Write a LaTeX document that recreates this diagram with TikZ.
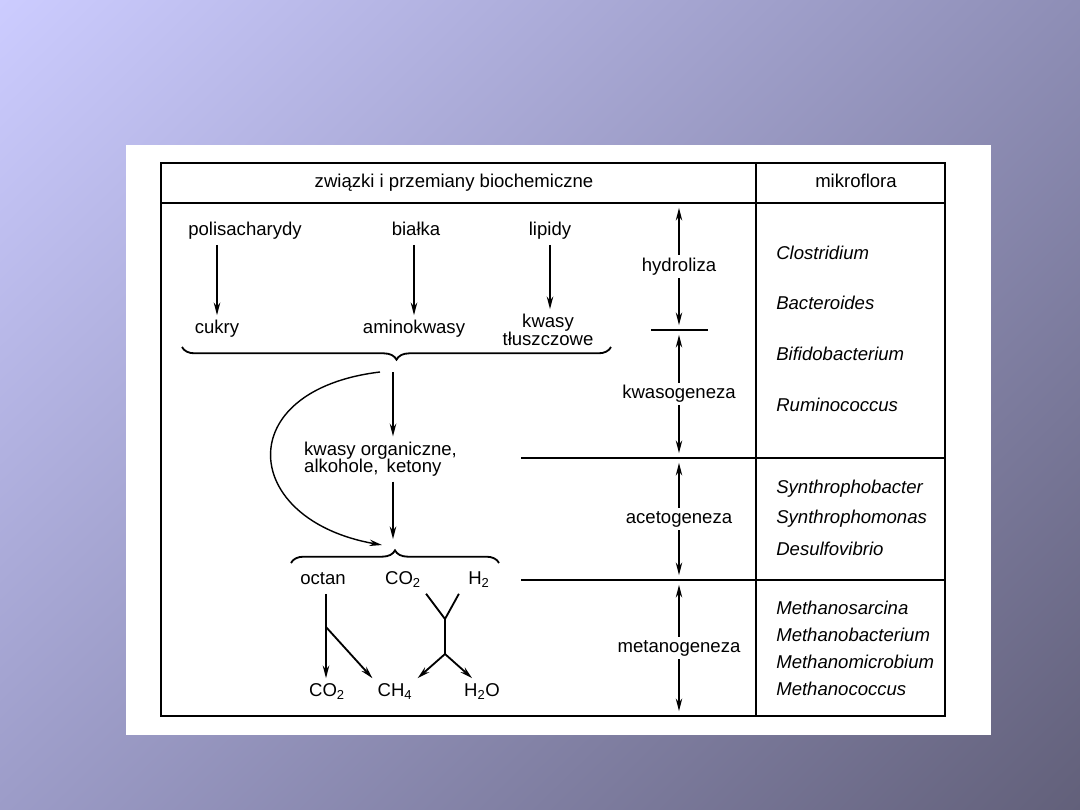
\documentclass[tikz,border=0pt]{standalone}
\usepackage{fontspec}
\setmainfont{Liberation Sans}
\usetikzlibrary{arrows.meta, calc, decorations.pathreplacing, positioning, shadings}

\definecolor{bgtl}{RGB}{204,204,255}
\definecolor{bgtr}{RGB}{142,142,182}
\definecolor{bgbl}{RGB}{156,156,200}
\definecolor{bgbr}{RGB}{98,96,122}

\tikzset{
  lbl2/.style={font=\fontsize{13.2}{12.5}\selectfont, inner sep=3.5pt},
  lbl/.style={lbl2, text height=9.4pt, text depth=2.8pt},
  genus/.style={font=\fontsize{13.2}{12.5}\selectfont\itshape, anchor=west, inner sep=0pt},
  flow/.style={-{Stealth[length=9pt, width=4.6pt]}, line width=1.3pt},
  phase/.style={{Stealth[length=9pt, width=4.6pt]}-{Stealth[length=9pt, width=4.6pt]}, line width=0.9pt, shorten <=3.5pt, shorten >=3.5pt},
  rule/.style={line width=1.5pt},
  brace/.style={decorate, decoration={brace, amplitude=9pt}, line width=1.3pt},
}

\begin{document}
\begin{tikzpicture}[x=0.025cm, y=-0.025cm]
    % Background
    \shade[upper left=bgtl, upper right=bgtr, lower left=bgbl, lower right=bgbr] (0,0) rectangle (1080,810);
    \fill[white] (126,145) rectangle (991,735);

    % Table
    \draw[rule, line width=2.1pt] (161,163) rectangle (945,716);
    \draw[rule] (161,203) -- (945,203);
    \draw[rule] (756,163) -- (756,716);
    \draw[rule] (521,458) -- (945,458);
    \draw[rule] (521,580) -- (945,580);
    \draw[rule] (651,330) -- (708,330);

    % Header
    \node[lbl] (head) at (454,183) {związki i przemiany biochemiczne};
    \node[lbl] (mikro) at (856,183) {mikroflora};

    % Hydrolysis of substrates
    \node[lbl] (polis) at (245,231) {polisacharydy};
    \node[lbl] (bialka) at (416,231) {białka};
    \node[lbl] (lipidy) at (550,231) {lipidy};
    \node[lbl] (cukry) at (217,329) {cukry};
    \node[lbl] (amino) at (414,329) {aminokwasy};
    \node[lbl2, align=center] (tluszcz) at (548,330) {kwasy\\tłuszczowe};
    \draw[flow] (polis.south -| cukry) -- (cukry.north);
    \draw[flow] (bialka.south -| amino) -- (amino.north);
    \draw[flow] (lipidy.south) -- (lipidy.south |- tluszcz.north);

    % Acid formation
    \coordinate (b1r) at (611,347);
    \coordinate (b1l) at (182,347);
    \coordinate (tip1) at (393,360);
    \draw[brace] (b1r) -- (b1l);
    \node[lbl2, align=left, anchor=west] (org) at (299,459) {kwasy organiczne,\\alkohole,\, ketony};
    \coordinate (tip2) at (393,549);
    \draw[flow] ($(tip1)+(0,12)$) -- (tip1 |- org.north);
    \draw[flow, shorten >=7pt] (tip1 |- org.south) -- (tip2);
    \draw[flow, line width=1pt] ($(tip1)+(-13,12)$) .. controls (230,390) and (240,520) .. ($(tip2)+(-11,-4)$);

    % Methane formation
    \coordinate (b2l) at (291,563);
    \coordinate (b2r) at (499,563);
    \draw[brace] (b2l) -- (b2r);
    \node[lbl] (octan) at (323,580) {octan};
    \node[lbl] (co2a) at (403,580) {CO\textsubscript{2}};
    \node[lbl] (h2) at (479,580) {H\textsubscript{2}};
    \node[lbl] (co2b) at (327,692) {CO\textsubscript{2}};
    \node[lbl] (ch4) at (395,692) {CH\textsubscript{4}};
    \node[lbl] (h2o) at (482,692) {H\textsubscript{2}O};
    \coordinate (fork) at (326,627);
    \coordinate (join) at (445,619);
    \coordinate (split) at (445,654);
    \draw[flow] (octan.south -| fork) -- (fork |- co2b.north);
    \draw[flow] (fork) -- (ch4.north west);
    \draw[line width=1.3pt] (co2a.south east) -- (join) -- ([xshift=-3pt]h2.south west);
    \draw[line width=1.3pt] (join) -- (split);
    \draw[flow] (split) -- (ch4.north east);
    \draw[flow] (split) -- ([xshift=-7pt]h2o.north);

    % Phases
    \coordinate (p0) at (679,203);
    \coordinate (p1) at (679,330);
    \coordinate (p2) at (679,458);
    \coordinate (p3) at (679,580);
    \coordinate (p4) at (679,716);
    \draw[phase] (p0) -- (p1) node[lbl, midway, fill=white, inner sep=2pt] (hydro) {hydroliza};
    \draw[phase] (p1) -- (p2) node[lbl, midway, fill=white, inner sep=2pt] (kwaso) {kwasogeneza};
    \draw[phase] (p2) -- (p3) node[lbl, midway, fill=white, inner sep=2pt] (aceto) {acetogeneza};
    \draw[phase] (p3) -- (p4) node[lbl, midway, fill=white, inner sep=2pt] (metano) {metanogeneza};

    % Microflora
    \node[genus] (clos) at (776,253) {Clostridium};
    \node[genus] (bact) at (776,303) {Bacteroides};
    \node[genus] (bifi) at (776,354) {Bifidobacterium};
    \node[genus] (rumi) at (776,405) {Ruminococcus};
    \node[genus] (synb) at (776,489) {Synthrophobacter};
    \node[genus] (synm) at (776,519) {Synthrophomonas};
    \node[genus] (desu) at (776,549) {Desulfovibrio};
    \node[genus] (msar) at (776,608) {Methanosarcina};
    \node[genus] (mbac) at (776,635) {Methanobacterium};
    \node[genus] (mmic) at (776,662) {Methanomicrobium};
    \node[genus] (mcoc) at (776,689) {Methanococcus};
\end{tikzpicture}
\end{document}
